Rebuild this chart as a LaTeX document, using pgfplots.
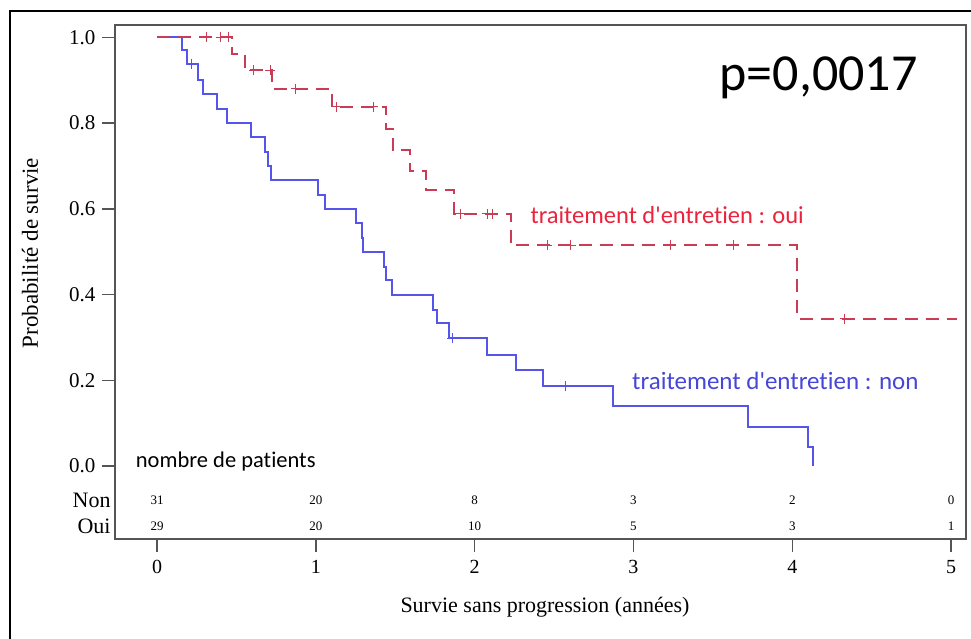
\documentclass[border=0pt]{standalone}
\usepackage{fontspec}
\setmainfont{Liberation Serif}
\newfontfamily\calibri[RawFeature=-liga]{Carlito}
\usepackage{pgfplots}
\pgfplotsset{compat=1.18}

\definecolor{kmblue}{RGB}{85,85,235}
\definecolor{kmred}{RGB}{200,60,85}
\definecolor{txtred}{RGB}{235,35,60}
\definecolor{txtblue}{RGB}{70,70,215}
\definecolor{axgray}{RGB}{85,85,85}

\begin{document}
\begin{tikzpicture}[risk/.style={font=\fontsize{13}{13}\selectfont}]
\useasboundingbox (0,0) rectangle (971pt,639pt);
% outer frame (left and top edges only are visible)
\draw[line width=1.5pt] (10pt,0) -- (10pt,628pt) -- (971pt,628pt);

\begin{axis}[
    at={(115pt,100pt)}, anchor=south west,
    scale only axis, width=851pt, height=514pt,
    xmin=-0.2645, xmax=5.094,
    ymin=-0.170, ymax=1.029,
    xtick={0,1,2,3,4,5},
    ytick={0,0.2,0.4,0.6,0.8,1},
    xtick pos=bottom, ytick pos=left,
    tick align=outside,
    major tick length=13pt,
    tick style={line width=1.4pt, axgray},
    axis line style={line width=1.6pt, axgray},
    /pgf/number format/assume math mode=true,
    yticklabel={\pgfmathprintnumber[fixed,fixed zerofill,precision=1]{\tick}},
    y tick label style={font=\fontsize{21}{21}\selectfont, xshift=-3pt},
    x tick label style={font=\fontsize{20}{20}\selectfont, yshift=-5pt},
    clip=false,
]

% non (blue, solid)
\addplot[const plot, kmblue, line width=2pt] coordinates {
(0,1) (0.16,0.970) (0.19,0.939) (0.26,0.900) (0.29,0.869) (0.38,0.834)
(0.44,0.800) (0.59,0.768) (0.68,0.733) (0.70,0.700) (0.72,0.667)
(1.013,0.632) (1.06,0.600) (1.25,0.566) (1.29,0.533) (1.30,0.500)
(1.432,0.465) (1.445,0.434) (1.48,0.400) (1.736,0.365) (1.763,0.334)
(1.84,0.298) (2.075,0.260) (2.26,0.225) (2.43,0.186) (2.87,0.140)
(3.72,0.092) (4.097,0.044) (4.133,0.0)
};
\addplot[only marks, mark=+, mark size=5pt, kmblue, line width=1.2pt] coordinates {
(0.218,0.939) (1.86,0.298) (2.573,0.186)
};

% oui (red, dashed)
\addplot[const plot, kmred, line width=2pt, dash pattern=on 13pt off 8pt] coordinates {
(0,1) (0.47,0.962) (0.553,0.923) (0.727,0.880) (1.10,0.838) (1.443,0.787)
(1.485,0.737) (1.59,0.688) (1.694,0.643) (1.872,0.589) (2.228,0.515)
(4.03,0.344) (5.04,0.344)
};
\addplot[only marks, mark=+, mark size=5pt, kmred, line width=1.2pt] coordinates {
(0.31,1) (0.40,1) (0.45,1) (0.61,0.923) (0.714,0.923) (0.873,0.880)
(1.128,0.838) (1.363,0.838) (1.913,0.589) (2.08,0.589) (2.11,0.589)
(2.458,0.515) (2.605,0.515) (3.233,0.515) (3.63,0.515) (4.33,0.344)
};

% annotations
\node[anchor=west, txtred, font=\calibri\fontsize{24.5}{24.5}\selectfont] at (axis cs:2.33,0.586) {traitement d'entretien : oui};
\node[anchor=west, txtblue, font=\calibri\fontsize{25}{25}\selectfont] at (axis cs:2.97,0.198) {traitement d'entretien : non};
\node[anchor=west, font=\calibri\fontsize{52}{52}\selectfont] at (axis cs:3.52,0.905) {p=0,0017};
\node[anchor=west, font=\calibri\fontsize{22.5}{22.5}\selectfont] at (axis cs:-0.155,0.01) {nombre de patients};

% number at risk
\node[anchor=east, font=\fontsize{22}{22}\selectfont] at (axis cs:-0.27,-0.079) {Non};
\node[anchor=east, font=\fontsize{22}{22}\selectfont] at (axis cs:-0.27,-0.140) {Oui};
\node[risk] at (axis cs:0,-0.079) {31};
\node[risk] at (axis cs:1,-0.079) {20};
\node[risk] at (axis cs:2,-0.079) {8};
\node[risk] at (axis cs:3,-0.079) {3};
\node[risk] at (axis cs:4,-0.079) {2};
\node[risk] at (axis cs:5,-0.079) {0};
\node[risk] at (axis cs:0,-0.140) {29};
\node[risk] at (axis cs:1,-0.140) {20};
\node[risk] at (axis cs:2,-0.140) {10};
\node[risk] at (axis cs:3,-0.140) {5};
\node[risk] at (axis cs:4,-0.140) {3};
\node[risk] at (axis cs:5,-0.140) {1};
\end{axis}

% axis titles
\node[font=\fontsize{22}{22}\selectfont] at (545pt,32pt) {Survie sans progression (années)};
\node[rotate=90, font=\fontsize{23}{23}\selectfont] at (30pt,386pt) {Probabilité de survie};
\end{tikzpicture}
\end{document}
